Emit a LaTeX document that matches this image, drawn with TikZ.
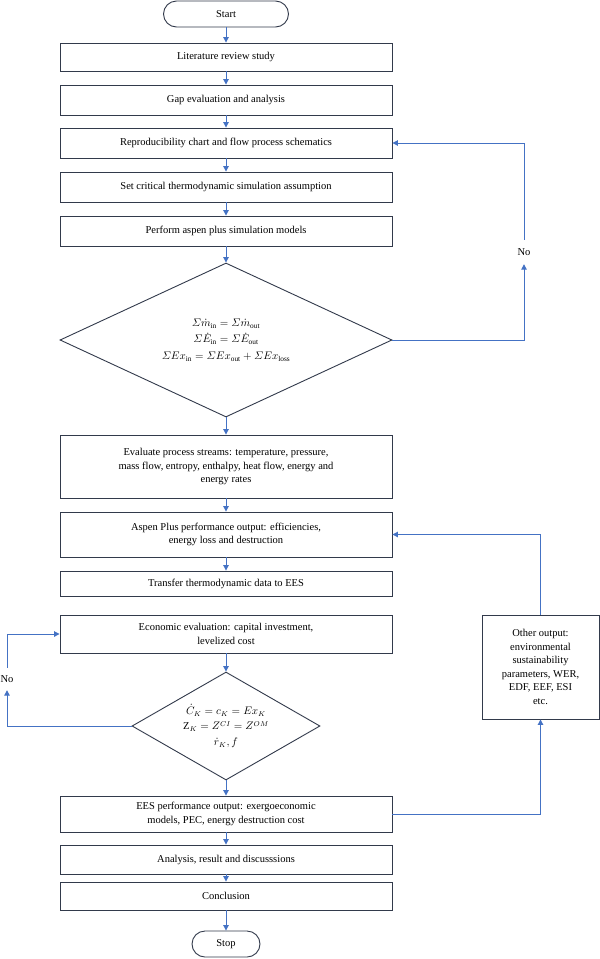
\documentclass[tikz,border=0pt]{standalone}
\usepackage{amsmath}
\usepackage{fontspec}
\setmainfont{Liberation Serif}
\usetikzlibrary{shapes.geometric,arrows.meta}
\definecolor{boxc}{RGB}{50,58,75}
\definecolor{arrc}{RGB}{68,114,196}
\begin{document}
\begin{tikzpicture}[x=1pt,y=-1pt,
  font=\fontsize{10.5}{13.5}\selectfont,
  box/.style={draw=boxc,line width=0.9pt,minimum width=332pt,inner sep=0pt,align=center,fill=white},
  term/.style={draw=boxc,line width=0.9pt,rounded corners=13pt,inner sep=0pt,align=center,fill=white},
  dia/.style={draw=boxc,line width=0.9pt,diamond,inner sep=0pt,align=center,fill=white},
  arr/.style={draw=arrc,line width=1pt,-{Triangle[length=5.5pt,width=5.5pt]}},
  lbl/.style={inner sep=0pt,minimum height=24pt,minimum width=16pt}]
\useasboundingbox (0,0) rectangle (600,959);

\node[term,minimum width=125pt,minimum height=26pt] (start) at (226,14) {Start};
\node[box,minimum height=28pt] (lit) at (226,57) {Literature review study};
\node[box,minimum height=30pt] (gap) at (226,100) {Gap evaluation and analysis};
\node[box,minimum height=30pt] (repro) at (226,143) {Reproducibility chart and flow process schematics};
\node[box,minimum height=30pt] (crit) at (226,187) {Set critical thermodynamic simulation assumption};
\node[box,minimum height=30pt] (sim) at (226,231) {Perform aspen plus simulation models};
\node[dia,minimum width=332pt,minimum height=154pt,aspect=2.156] (d1) at (226,340)
  {$\varSigma\dot m_{\mathrm{in}} = \varSigma\dot m_{\mathrm{out}}$\\[3pt]
   $\varSigma\dot E_{\mathrm{in}} = \varSigma\dot E_{\mathrm{out}}$\\[3pt]
   $\varSigma Ex_{\mathrm{in}} = \varSigma Ex_{\mathrm{out}} + \varSigma Ex_{\mathrm{loss}}$};
\node[box,minimum height=63pt] (eval) at (226,466.5) {Evaluate process streams: temperature, pressure,\\mass flow, entropy, enthalpy, heat flow, energy and\\energy rates};
\node[box,minimum height=45pt] (perf) at (226,534.5) {Aspen Plus performance output: efficiencies,\\energy loss and destruction};
\node[box,minimum height=25pt] (trans) at (226,583.5) {Transfer thermodynamic data to EES};
\node[box,minimum height=38pt] (econ) at (226,634) {Economic evaluation: capital investment,\\levelized cost};
\node[dia,minimum width=188pt,minimum height=108pt,aspect=1.74] (d2) at (226,726)
  {$\dot C_K = c_K = Ex_K$\\[2pt]
   $\mathrm{Z}_K = Z^{CI} = Z^{OM}$\\[2pt]
   $\dot r_K, f$};
\node[box,minimum height=36pt] (ees) at (226,814) {EES performance output: exergoeconomic\\models, PEC, energy destruction cost};
\node[box,minimum height=29pt] (ana) at (226,859.5) {Analysis, result and discusssions};
\node[box,minimum height=28pt] (conc) at (226,896) {Conclusion};
\node[term,minimum width=68pt,minimum height=26pt] (stop) at (226,944) {Stop};
\node[box,minimum width=117pt,minimum height=104pt] (other) at (540.5,667) {Other output:\\environmental\\sustainability\\parameters, WER,\\EDF, EEF, ESI\\etc.};

\node[lbl] (no1) at (524,252) {No};
\node[lbl,minimum height=22pt] (no2) at (7,679) {No};

\foreach \a/\b in {start/lit,lit/gap,gap/repro,repro/crit,crit/sim,sim/d1,d1/eval,eval/perf,perf/trans,econ/d2,d2/ees,ees/ana,ana/conc,conc/stop}
  \draw[arr] (\a.south) -- (\b.north);

\draw[arr] (d1.east) -| (no1.south);
\draw[arr] (no1.north) |- (repro.east);
\draw[arr] (d2.west) -| (no2.south);
\draw[arr] (no2.north) |- (econ.west);
\draw[arr] (ees.east) -| (other.south);
\draw[arr] (other.north) |- (perf.east);
\end{tikzpicture}
\end{document}
